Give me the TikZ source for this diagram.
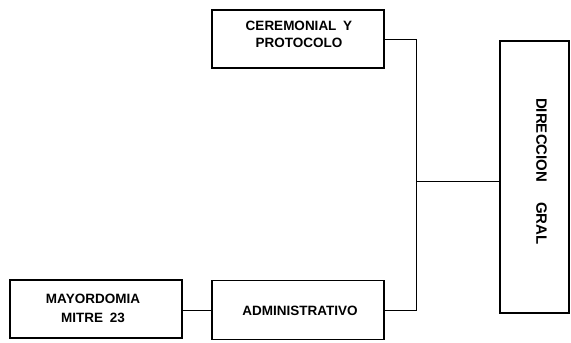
\documentclass[tikz,border=0pt]{standalone}
\usepackage{fontspec}
\setmainfont{Liberation Sans}
\begin{document}
\begin{tikzpicture}[x=1pt,y=1pt,
  boxnode/.style={draw, line width=1.6pt, rectangle, minimum width=172pt, minimum height=58pt,
    inner sep=0pt},
  boxtext/.style={inner sep=0pt, align=center, font=\fontsize{13.5}{17}\selectfont\bfseries},
  conn/.style={line width=1pt}]
\useasboundingbox (0,0) rectangle (571,-343);
\node[boxnode, label={[boxtext, yshift=4.3pt, xshift=1pt]center:CEREMONIAL\hspace{3pt} Y\\PROTOCOLO}] (cer) at (298,-39) {};
\node[boxnode, minimum height=59pt, label={[boxtext, yshift=-1pt, xshift=2pt]center:ADMINISTRATIVO}] (adm) at (298,-310) {};
\node[boxnode, label={[boxtext, font=\fontsize{13.5}{19}\selectfont\bfseries, yshift=1pt, xshift=-3pt]center:MAYORDOMIA\\MITRE\hspace{3pt} 23}] (may) at (96,-309) {};
\node[draw, line width=1.6pt, rectangle, minimum width=69pt, minimum height=272pt,
  inner sep=0pt] (dir) at (534.5,-177) {};
\node[rotate=-90, inner sep=0pt, font=\fontsize{15}{17}\selectfont\bfseries]
  (dirtext) at (541.5,-171.5) {DIRECCION\hspace{20pt}GRAL};
\coordinate (j) at (416,-181);
\draw[conn] (cer.east) -| (j);
\draw[conn] (adm.east) -| (j);
\draw[conn] (j) -- (j -| dir.west);
\draw[conn] (may.east |- adm.west) -- (adm.west);
\end{tikzpicture}
\end{document}
